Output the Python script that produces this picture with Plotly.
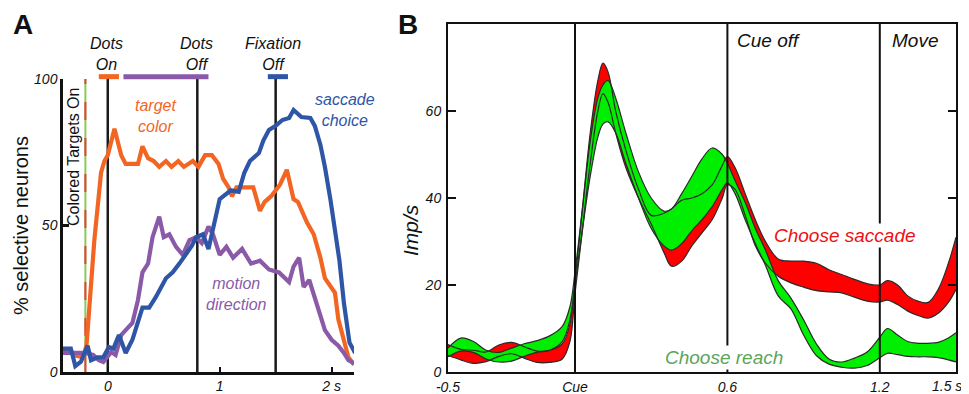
import plotly.graph_objects as go

# ---------------- panel A : % selective neurons vs time (s)
t_color = [-0.4, -0.33, -0.28, -0.22, -0.19, -0.12, -0.06, -0.03, 0.0, 0.06,
           0.12, 0.16, 0.22, 0.27, 0.31, 0.36, 0.41, 0.46, 0.52, 0.57,
           0.63, 0.68, 0.76, 0.81, 0.87, 0.93, 0.99, 1.03, 1.08, 1.11,
           1.15, 1.22, 1.3, 1.36, 1.4, 1.46, 1.54, 1.6, 1.66, 1.7,
           1.78, 1.84, 1.9, 1.94, 1.99, 2.03, 2.06, 2.11, 2.15, 2.2]
pct_color = [7, 7, 5.5, 5, 9, 45, 68, 72, 74, 83,
             74, 71, 71, 71, 77, 73, 72, 70, 72, 70,
             72, 70, 72, 70, 74, 74, 71, 66, 63, 60,
             63, 63, 63, 55, 58, 60, 64, 69, 59, 58,
             51, 47, 39, 32, 29, 27, 18, 10, 5, 2.5]

t_motion = [-0.4, -0.3, -0.2, -0.13, -0.08, -0.04, 0.03, 0.07, 0.12, 0.16,
            0.22, 0.27, 0.31, 0.36, 0.4, 0.46, 0.5, 0.55, 0.61, 0.67,
            0.73, 0.79, 0.84, 0.9, 0.94, 1.0, 1.06, 1.12, 1.2, 1.28,
            1.36, 1.44, 1.53, 1.62, 1.66, 1.71, 1.75, 1.8, 1.85, 1.9,
            1.94, 2.0, 2.06, 2.11, 2.15, 2.2]
pct_motion = [6.5, 6.5, 6.5, 5.8, 4, 3.4, 6.8, 5.8, 12.6, 14.3,
              16.7, 24.6, 34, 37, 46, 53, 46, 47, 42.7, 40,
              45, 46, 44, 49.6, 47, 40, 42.7, 39, 42, 37,
              38, 35, 34, 30.7, 36, 39, 29, 31.4, 25.6, 20,
              14.3, 11, 9, 6.5, 4, 3]

t_choice = [-0.4, -0.33, -0.29, -0.24, -0.18, -0.15, -0.09, -0.04, 0.01, 0.05,
            0.1, 0.16, 0.22, 0.31, 0.37, 0.43, 0.52, 0.58, 0.64, 0.7,
            0.75, 0.79, 0.85, 0.9, 0.95, 1.0, 1.1, 1.17, 1.22, 1.27,
            1.35, 1.39, 1.44, 1.5, 1.56, 1.62, 1.66, 1.73, 1.81, 1.85,
            1.9, 1.94, 1.99, 2.03, 2.07, 2.11, 2.16, 2.21]
pct_choice = [8, 8, 2, 3.5, 9, 4, 5, 5, 8.5, 8,
              12.6, 6.5, 11, 22, 22, 25.6, 32, 34, 37, 40,
              43, 46, 47, 42, 51, 59, 62, 61.5, 68, 72,
              74.7, 79, 82.6, 84, 86, 86.7, 89.4, 87, 86.7, 84,
              77.5, 70, 58.7, 48.5, 38, 23.5, 10, 6.5]

events_a = [0.0, 0.8, 1.5]
targets_on = -0.2
epoch_start = [-0.08, 0.14, 1.43]
epoch_end = [0.1, 0.9, 1.61]

ticks_a_x = [0, 1, 2]
ticks_a_xtext = ["0", "1", "2 s"]
ticks_a_y = [0, 50, 100]

# ---------------- panel B : firing rate bands (Imp/s)
t_b = [-0.5, -0.45, -0.4, -0.35, -0.3, -0.25, -0.2, -0.15, -0.1, -0.05,
       -0.02, 0.0, 0.03, 0.06, 0.09, 0.11, 0.13, 0.16, 0.2, 0.25,
       0.3, 0.35, 0.38, 0.42, 0.46, 0.5, 0.54, 0.58, 0.6, 0.63,
       0.67, 0.71, 0.75, 0.8, 0.85, 0.9, 0.95, 1.0, 1.05, 1.1,
       1.15, 1.2, 1.23, 1.27, 1.31, 1.35, 1.39, 1.43, 1.47, 1.5]
saccade_hi = [6.3, 5.2, 5.0, 4.6, 6.2, 6.8, 5.8, 4.8, 5.0, 6.5,
              11, 21, 38, 55, 67, 71, 69, 60, 51, 42,
              36, 36.5, 37.5, 39.5, 40, 41, 43, 47.5, 49.5, 47,
              41, 35, 30, 26, 25.5, 25.5, 25, 23.5, 22.4, 21.3,
              20.3, 20, 21, 20, 17.5, 16.3, 16, 19, 25, 31]
saccade_lo = [3.8, 2.8, 2.0, 2.4, 3.6, 4.2, 3.2, 2.2, 2.2, 3.0,
              7, 18, 33, 48, 60, 64, 62, 55, 47, 40,
              34, 27.5, 24.3, 25.5, 29, 32, 35, 40, 43, 42,
              36, 29, 25, 22, 20.5, 19.5, 18.7, 18.4, 18.2, 17.2,
              16.3, 16.1, 16.5, 15.5, 14, 13, 12.4, 13.5, 16, 19]
reach_hi = [5.5, 7.8, 7.0, 5.0, 4.5, 5.5, 6.5, 7.2, 8.3, 10.5,
            15, 23, 38, 53, 63, 66, 67, 63, 55, 46,
            40, 37, 37.5, 41, 45, 49, 51.5, 50, 48, 44,
            39, 33, 28, 21, 17, 12, 6.5, 3, 2.3, 3.2,
            4.6, 8, 10, 8.5, 7, 6.6, 6.6, 6.8, 7.8, 9]
reach_lo = [3.5, 4.8, 4.5, 3.0, 2.3, 2.5, 3.6, 4.5, 5.0, 7.0,
            12, 20, 33, 45, 54, 57, 57.5, 55, 48, 40,
            33, 29, 28, 29.5, 32.5, 35, 38, 42, 43.5, 41,
            35, 29.5, 24.5, 17.5, 14.5, 8.5, 3.8, 1.8, 1.1, 0.9,
            1.5, 3.3, 4.3, 4.0, 3.6, 3.5, 3.5, 3.3, 2.8, 2.3]

events_b = [0.0, 0.6, 1.2]
ticks_b_x = [-0.5, 0, 0.6, 1.2, 1.5]
ticks_b_xtext = ["-0.5", "Cue", "0.6", "1.2", ""]
ticks_b_y = [0, 20, 40, 60]

W, H = 969, 394
OFF = 8  # the page body margin shifts the figure by this many pixels
FONT = "Liberation Sans, Arial, sans-serif"
ORANGE = "#f26522"
PURPLE = "#8a5aa8"
BLUE = "#2f55a6"
INK = "#111111"


def px(x):
    return (x - OFF) / W


def py(y):
    return 1 - (y - OFF) / H


fig = go.Figure()

# panel A lines
for tt, vv, col in [(t_color, pct_color, ORANGE),
                    (t_motion, pct_motion, PURPLE),
                    (t_choice, pct_choice, BLUE)]:
    fig.add_trace(go.Scatter(x=tt, y=vv, mode="lines",
                             line=dict(color=col, width=4.2),
                             xaxis="x", yaxis="y", hoverinfo="skip"))

# panel B bands: fills first, then outlines on top
for lo, hi, col in [(saccade_lo, saccade_hi, "#ff0000"),
                    (reach_lo, reach_hi, "#00ee00")]:
    fig.add_trace(go.Scatter(x=t_b, y=lo, mode="lines", line=dict(width=0, shape="spline"),
                             xaxis="x2", yaxis="y2", hoverinfo="skip"))
    fig.add_trace(go.Scatter(x=t_b, y=hi, mode="lines", line=dict(width=0, shape="spline"),
                             fill="tonexty", fillcolor=col,
                             xaxis="x2", yaxis="y2", hoverinfo="skip"))
for edge in [saccade_lo, saccade_hi, reach_lo, reach_hi]:
    fig.add_trace(go.Scatter(x=t_b, y=edge, mode="lines",
                             line=dict(color="#2a2a2a", width=1.2, shape="spline"),
                             xaxis="x2", yaxis="y2", hoverinfo="skip"))

# event lines
for ev in events_a:
    fig.add_shape(type="line", xref="x", yref="y domain", x0=ev, x1=ev, y0=0, y1=1.007,
                  line=dict(color="#1a1a1a", width=2.5), layer="below")
fig.add_shape(type="line", xref="x", yref="y", x0=targets_on, x1=targets_on, y0=0, y1=100,
              line=dict(color="#8cc85a", width=2), layer="below")
fig.add_shape(type="line", xref="x", yref="y", x0=targets_on, x1=targets_on, y0=0, y1=100,
              line=dict(color="#e8403c", width=2, dash="18px,18px"), layer="below")
for s, e, col in zip(epoch_start, epoch_end, [ORANGE, PURPLE, BLUE]):
    fig.add_shape(type="line", xref="x", yref="y domain", x0=s, x1=e, y0=1.008, y1=1.008,
                  line=dict(color=col, width=5))
for ev in events_b:
    fig.add_shape(type="line", xref="x2", yref="y2", x0=ev, x1=ev, y0=0, y1=80,
                  line=dict(color=INK, width=2))


def label(text, x, y, size, color=INK, italic=True, angle=0, weight="normal",
          bg=None, xanchor="center"):
    fig.add_annotation(text=text, x=px(x), y=py(y), xref="paper", yref="paper",
                       showarrow=False, textangle=angle, xanchor=xanchor, yanchor="middle",
                       bgcolor=bg, borderpad=1,
                       font=dict(family=FONT, size=size, color=color, weight=weight,
                                 style="italic" if italic else "normal"))


label("A", 23, 25, 28, italic=False, weight="bold")
label("B", 408, 24, 28, italic=False, weight="bold")
label("Dots<br>On", 106, 54, 16)
label("Dots<br>Off", 196, 54, 16)
label("Fixation<br>Off", 273, 54, 16)
label("target<br>color", 155, 116, 16, ORANGE)
label("saccade<br>choice", 345, 110, 16, BLUE)
label("motion<br>direction", 236, 294, 16, PURPLE)
label("Colored Targets On", 73, 157, 16, italic=False, angle=-90)
label("% selective neurons", 21, 226, 20, italic=False, angle=-90)

label("Cue off", 735, 40, 19, xanchor="left")
label("Move", 890, 40, 19, xanchor="left")
label("Choose saccade", 845, 235, 19, "#ee1111", bg="white")
label("Choose reach", 724, 357, 19, "#5ca55c", bg="white")
label("Imp/s", 410, 230, 21, angle=-90)
label("1.5 s", 964, 386, 14, xanchor="right")

tickfont = dict(family=FONT, size=14, color=INK, style="italic")
common = dict(showgrid=False, zeroline=False, showline=True, linecolor=INK,
              automargin=False)

fig.update_layout(
    width=W, height=H,
    margin=dict(l=0, r=0, t=0, b=0, autoexpand=False),
    paper_bgcolor="white", plot_bgcolor="white",
    showlegend=False,
    xaxis=dict(domain=[px(63), px(354)], range=[-0.4, 2.2], anchor="y",
               linewidth=2.5, ticks="inside", ticklen=5, tickwidth=2, tickcolor=INK,
               tickvals=ticks_a_x, ticktext=ticks_a_xtext, tickfont=tickfont,
               ticklabelstandoff=-1, **common),
    yaxis=dict(domain=[py(372), py(79)], range=[0, 100], anchor="x",
               linewidth=2.5, ticks="inside", ticklen=6, tickwidth=2.5, tickcolor=INK,
               tickvals=ticks_a_y, tickfont=tickfont, **common),
    xaxis2=dict(domain=[px(448), px(956)], range=[-0.5, 1.5], anchor="y2",
                linewidth=2, mirror=True, ticks="",
                tickvals=ticks_b_x, ticktext=ticks_b_xtext, tickfont=tickfont,
                ticklabelstandoff=1, **common),
    yaxis2=dict(domain=[py(372), py(24)], range=[0, 80], anchor="x2",
                linewidth=2, mirror="ticks", ticks="inside", ticklen=8, tickwidth=2,
                tickcolor=INK, tickvals=ticks_b_y, tickfont=tickfont,
                ticklabelstandoff=2, **common),
)

fig.write_html("out.html")
